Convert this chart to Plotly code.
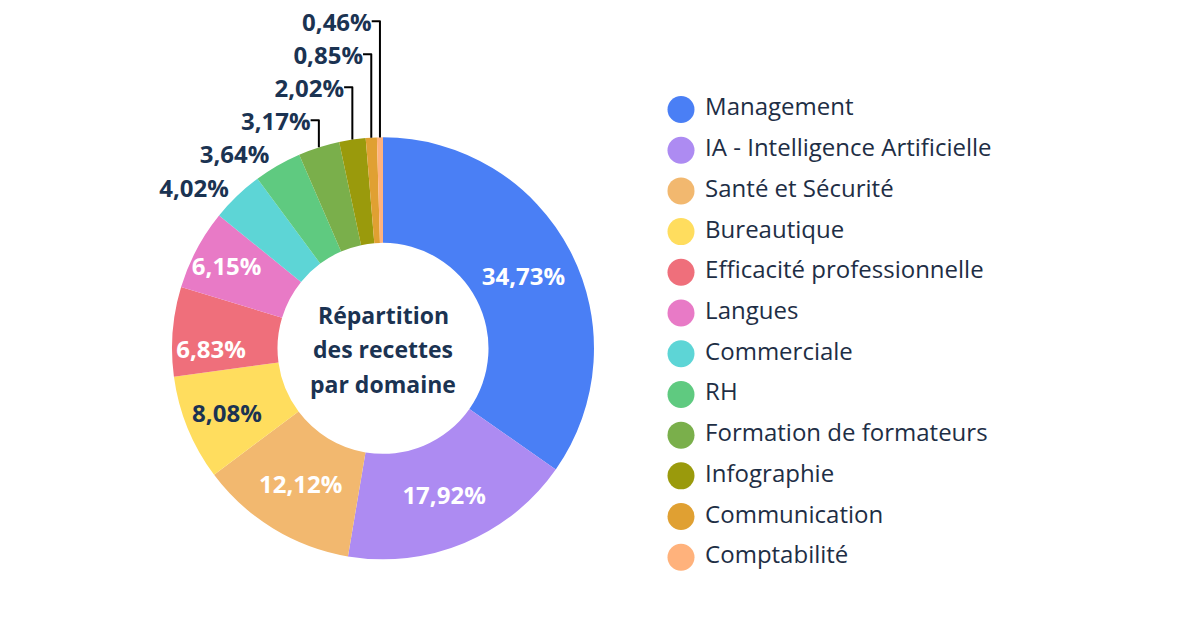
import plotly.graph_objects as go

categories = ["Management", "IA - Intelligence Artificielle", "Santé et Sécurité", "Bureautique",
              "Efficacité professionnelle", "Langues", "Commerciale", "RH",
              "Formation de formateurs", "Infographie", "Communication", "Comptabilité"]
values = [34.73, 17.92, 12.12, 8.08, 6.83, 6.15, 4.02, 3.64, 3.17, 2.02, 0.85, 0.46]
colors = ["#4a7ff5", "#ad8bf2", "#f2b86f", "#ffdd5e", "#ef6f7b", "#e87ac6",
          "#5dd5d6", "#5fca80", "#7aaf4b", "#9a9a0c", "#e0a032", "#ffb27c"]
text_pos = ["inside"] * 6 + ["outside"] * 6
dark = "#1b3352"
text_colors = ["white", "white", "white", dark, "white", "white"] + [dark] * 6
center_title = ["Répartition", "des recettes", "par domaine"]

FONT = "Open Sans"

fig = go.Figure()
fig.add_trace(go.Pie(
    labels=categories, values=values, sort=False, direction="clockwise", rotation=0,
    hole=0.5, marker=dict(colors=colors, line=dict(width=0)),
    texttemplate="%{value:.2f}%", textposition=text_pos,
    insidetextorientation="horizontal",
    textfont=dict(family=FONT, size=24, color=text_colors, weight="bold"),
    showlegend=False, hoverinfo="label+value",
    domain=dict(x=[170/1200, 596/1200], y=[71/630, 495/630]),
))

# legend drawn as a scatter column
fig.add_trace(go.Scatter(
    x=[0] * len(categories), y=list(range(len(categories))),
    mode="markers+text", text=[" " + c for c in categories], textposition="middle right",
    marker=dict(size=27, color=colors, symbol="circle"),
    textfont=dict(family=FONT, size=24, color="#1e2e45"),
    cliponaxis=False, showlegend=False, hoverinfo="skip",
))

for i, line in enumerate(center_title):
    fig.add_annotation(text="<b>" + line + "</b>",
                       x=383/1200, y=1 - (313 + 35 * i)/630, xref="paper", yref="paper",
                       xanchor="center", yanchor="middle", showarrow=False,
                       font=dict(family=FONT, size=23, color=dark))

fig.update_layout(
    width=1200, height=630, margin=dict(l=0, r=0, t=0, b=0),
    paper_bgcolor="white", plot_bgcolor="white", separators=", ",
    uniformtext=dict(minsize=24, mode="show"),
    xaxis=dict(domain=[681/1200, 1], range=[0, 1], visible=False, fixedrange=True),
    yaxis=dict(domain=[0, 1], range=[(630 - 107) / 40.9, -107 / 40.9], visible=False, fixedrange=True),
)
fig.write_html("out.html")
